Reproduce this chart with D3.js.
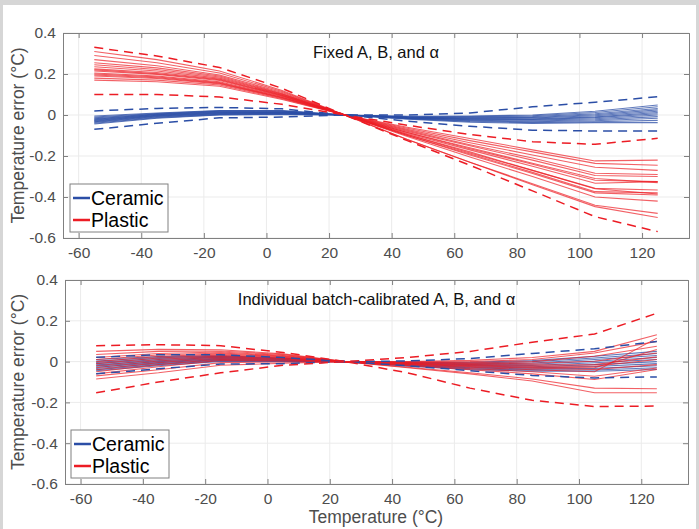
<!DOCTYPE html>
<html>
<head>
<meta charset="utf-8">
<script src="https://cdn.jsdelivr.net/npm/d3@7/dist/d3.min.js"></script>
<style>
  body { margin: 0; background: #fff; }
  svg { display: block; font-family: "Liberation Sans", Arial, sans-serif; }
</style>
</head>
<body>
<svg id="chart" width="699" height="529"></svg>
<script>
// measurement temperatures (°C)
const temps = [-55, -35, -15, 5, 25, 45, 65, 85, 105, 125];
const xTicks = [-60, -40, -20, 0, 20, 40, 60, 80, 100, 120];
const yTicks = [0.4, 0.2, 0, -0.2, -0.4, -0.6];

// --- Fixed A, B, and alpha ---
const fixedCeramic = [
  [-0.005, 0.010, 0.022, 0.022, 0, -0.006, -0.005, 0.000, 0.018, 0.049],
  [-0.010, 0.007, 0.020, 0.020, 0, -0.008, -0.008, -0.004, 0.012, 0.040],
  [-0.014, 0.005, 0.018, 0.018, 0, -0.010, -0.011, -0.008, 0.006, 0.032],
  [-0.018, 0.003, 0.016, 0.016, 0, -0.011, -0.014, -0.012, 0.001, 0.025],
  [-0.021, 0.001, 0.014, 0.014, 0, -0.012, -0.016, -0.015, -0.004, 0.018],
  [-0.024, -0.001, 0.012, 0.013, 0, -0.013, -0.019, -0.019, -0.009, 0.012],
  [-0.027, -0.003, 0.010, 0.011, 0, -0.014, -0.021, -0.022, -0.013, 0.006],
  [-0.030, -0.005, 0.008, 0.010, 0, -0.015, -0.023, -0.025, -0.018, 0.000],
  [-0.033, -0.007, 0.006, 0.008, 0, -0.016, -0.026, -0.029, -0.023, -0.008],
  [-0.036, -0.010, 0.004, 0.006, 0, -0.017, -0.029, -0.033, -0.028, -0.016],
  [-0.040, -0.013, 0.002, 0.004, 0, -0.018, -0.032, -0.037, -0.033, -0.026],
  [-0.044, -0.016, 0.000, 0.002, 0, -0.020, -0.035, -0.041, -0.037, -0.037]
];
const fixedCeramicBounds = [
  [0.020, 0.032, 0.037, 0.030, 0, 0.000, 0.010, 0.040, 0.062, 0.089],
  [-0.070, -0.040, -0.014, -0.010, 0, -0.030, -0.055, -0.074, -0.078, -0.078]
];
const fixedPlastic = [
  [0.310, 0.270, 0.215, 0.120, 0, -0.120, -0.230, -0.340, -0.447, -0.500],
  [0.290, 0.255, 0.205, 0.115, 0, -0.120, -0.230, -0.335, -0.440, -0.480],
  [0.270, 0.240, 0.195, 0.110, 0, -0.105, -0.205, -0.300, -0.400, -0.420],
  [0.255, 0.230, 0.190, 0.105, 0, -0.100, -0.195, -0.285, -0.380, -0.390],
  [0.245, 0.222, 0.185, 0.102, 0, -0.100, -0.190, -0.280, -0.374, -0.380],
  [0.235, 0.215, 0.180, 0.100, 0, -0.095, -0.185, -0.270, -0.358, -0.366],
  [0.225, 0.207, 0.175, 0.097, 0, -0.090, -0.170, -0.250, -0.333, -0.325],
  [0.220, 0.202, 0.172, 0.095, 0, -0.095, -0.180, -0.270, -0.360, -0.385],
  [0.215, 0.198, 0.168, 0.093, 0, -0.085, -0.165, -0.240, -0.318, -0.325],
  [0.205, 0.190, 0.162, 0.090, 0, -0.080, -0.150, -0.220, -0.295, -0.300],
  [0.200, 0.186, 0.158, 0.087, 0, -0.075, -0.145, -0.210, -0.284, -0.290],
  [0.195, 0.182, 0.155, 0.085, 0, -0.085, -0.160, -0.235, -0.310, -0.330],
  [0.190, 0.178, 0.152, 0.083, 0, -0.070, -0.135, -0.195, -0.255, -0.270],
  [0.180, 0.170, 0.146, 0.080, 0, -0.065, -0.125, -0.180, -0.236, -0.245],
  [0.170, 0.162, 0.140, 0.076, 0, -0.060, -0.115, -0.170, -0.224, -0.220]
];
const fixedPlasticBounds = [
  [0.330, 0.288, 0.232, 0.130, 0, -0.050, -0.095, -0.130, -0.143, -0.114],
  [0.100, 0.100, 0.088, 0.052, 0, -0.125, -0.245, -0.370, -0.496, -0.569]
];

// --- Individual batch-calibrated A, B, and alpha ---
const batchCeramic = [
  [0.010, 0.025, 0.028, 0.018, 0, -0.004, -0.003, 0.005, 0.026, 0.050],
  [0.003, 0.020, 0.025, 0.016, 0, -0.006, -0.007, -0.001, 0.018, 0.040],
  [-0.004, 0.015, 0.022, 0.014, 0, -0.008, -0.011, -0.007, 0.010, 0.030],
  [-0.010, 0.010, 0.019, 0.012, 0, -0.010, -0.015, -0.013, 0.002, 0.020],
  [-0.016, 0.005, 0.016, 0.010, 0, -0.012, -0.019, -0.019, -0.006, 0.010],
  [-0.022, 0.000, 0.013, 0.008, 0, -0.014, -0.023, -0.025, -0.015, 0.000],
  [-0.028, -0.005, 0.010, 0.006, 0, -0.016, -0.027, -0.031, -0.024, -0.010],
  [-0.034, -0.010, 0.007, 0.004, 0, -0.018, -0.031, -0.037, -0.033, -0.020],
  [-0.040, -0.015, 0.004, 0.002, 0, -0.020, -0.035, -0.042, -0.041, -0.030],
  [-0.045, -0.020, 0.001, 0.000, 0, -0.022, -0.039, -0.047, -0.047, -0.039]
];
const batchCeramicBounds = [
  [0.021, 0.034, 0.033, 0.020, 0, 0.003, 0.015, 0.040, 0.063, 0.099],
  [-0.060, -0.035, -0.012, -0.010, 0, -0.020, -0.045, -0.068, -0.080, -0.075]
];
const batchPlastic = [
  [0.050, 0.060, 0.058, 0.038, 0, -0.030, -0.060, -0.095, -0.153, -0.153],
  [0.035, 0.050, 0.052, 0.034, 0, -0.028, -0.055, -0.085, -0.130, -0.133],
  [0.020, 0.040, 0.047, 0.030, 0, -0.020, -0.040, -0.060, -0.088, -0.039],
  [0.010, 0.032, 0.042, 0.027, 0, -0.018, -0.034, -0.050, -0.072, -0.031],
  [0.000, 0.025, 0.038, 0.024, 0, -0.012, -0.024, -0.032, -0.039, -0.015],
  [-0.010, 0.018, 0.033, 0.021, 0, -0.010, -0.018, -0.022, -0.023, 0.010],
  [-0.020, 0.010, 0.028, 0.018, 0, -0.008, -0.014, -0.016, -0.015, 0.023],
  [-0.030, 0.003, 0.023, 0.015, 0, -0.006, -0.010, -0.008, 0.002, 0.042],
  [-0.040, -0.005, 0.018, 0.012, 0, -0.004, -0.006, 0.000, 0.026, 0.075],
  [-0.050, -0.015, 0.012, 0.008, 0, -0.002, 0.000, 0.010, 0.042, 0.099],
  [-0.060, -0.025, 0.006, 0.004, 0, 0.000, 0.006, 0.020, 0.050, 0.132],
  [-0.070, -0.040, -0.005, -0.002, 0, -0.012, -0.020, -0.028, -0.030, 0.059],
  [-0.085, -0.055, -0.018, -0.008, 0, -0.015, -0.028, -0.040, -0.050, 0.115]
];
const batchPlasticBounds = [
  [0.078, 0.083, 0.078, 0.045, 0, 0.020, 0.050, 0.095, 0.135, 0.237],
  [-0.153, -0.100, -0.055, -0.018, 0, -0.055, -0.130, -0.190, -0.220, -0.218]
];

const blue = '#2b4ea6';
const red = '#ec1c24';
const fontFam = '"Liberation Sans", Arial, sans-serif';

const panels = [
  { title: 'Fixed A, B, and α', box: { l: 63, r: 689, t: 33, b: 238 },
    ceramic: fixedCeramic, ceramicB: fixedCeramicBounds,
    plastic: fixedPlastic, plasticB: fixedPlasticBounds, legend: { x: 70, y: 184 } },
  { title: 'Individual batch-calibrated A, B, and α', box: { l: 65, r: 688, t: 280, b: 484 },
    ceramic: batchCeramic, ceramicB: batchCeramicBounds,
    plastic: batchPlastic, plasticB: batchPlasticBounds, legend: { x: 71, y: 430 } }
];

// plain hyphen for negatives, like the original figure
const fmtY = d => d === 0 ? '0' : d3.format('.1f')(d).replace('\u2212', '-');
const fmtX = d => String(d);

const svg = d3.select('#chart');

// grey window frame
svg.append('rect').attr('x', 0).attr('y', 0).attr('width', 699).attr('height', 529).attr('fill', '#d6d6d6');
svg.append('rect').attr('x', 3).attr('y', 5).attr('width', 693).attr('height', 524).attr('fill', '#fff');

panels.forEach(p => {
  const b = p.box;
  const x = d3.scaleLinear().domain([-65, 135]).range([b.l, b.r]);
  const y = d3.scaleLinear().domain([-0.6, 0.4]).range([b.b, b.t]);
  const g = svg.append('g');

  // grid
  g.selectAll('.gx').data(xTicks).join('line')
    .attr('x1', d => x(d)).attr('x2', d => x(d)).attr('y1', b.t).attr('y2', b.b)
    .attr('stroke', '#ebebeb').attr('stroke-width', 1);
  g.selectAll('.gy').data(yTicks).join('line')
    .attr('y1', d => y(d)).attr('y2', d => y(d)).attr('x1', b.l).attr('x2', b.r)
    .attr('stroke', '#ebebeb').attr('stroke-width', 1);

  const line = d3.line().x((d, i) => x(temps[i])).y(d => y(d));
  const plot = g.append('g');

  plot.selectAll('.c').data(p.ceramic).join('path')
    .attr('d', line).attr('fill', 'none').attr('stroke', blue)
    .attr('stroke-width', 1.1).attr('stroke-opacity', 0.75);
  plot.selectAll('.pl').data(p.plastic).join('path')
    .attr('d', line).attr('fill', 'none').attr('stroke', red)
    .attr('stroke-width', 1.1).attr('stroke-opacity', 0.7);
  plot.selectAll('.cb').data(p.ceramicB).join('path')
    .attr('d', line).attr('fill', 'none').attr('stroke', blue)
    .attr('stroke-width', 1.5).attr('stroke-dasharray', '9,6');
  plot.selectAll('.pb').data(p.plasticB).join('path')
    .attr('d', line).attr('fill', 'none').attr('stroke', red)
    .attr('stroke-width', 1.5).attr('stroke-dasharray', '9,6');

  // axes box with inward ticks on all sides
  const axisColor = '#808080';
  const axB = g.append('g').attr('transform', `translate(0,${b.b})`)
    .call(d3.axisBottom(x).tickValues(xTicks).tickSize(-5).tickPadding(9).tickFormat(fmtX));
  const axT = g.append('g').attr('transform', `translate(0,${b.t})`)
    .call(d3.axisTop(x).tickValues(xTicks).tickSize(-5).tickFormat(''));
  const axL = g.append('g').attr('transform', `translate(${b.l},0)`)
    .call(d3.axisLeft(y).tickValues(yTicks).tickSize(-5).tickPadding(7).tickFormat(fmtY));
  const axR = g.append('g').attr('transform', `translate(${b.r},0)`)
    .call(d3.axisRight(y).tickValues(yTicks).tickSize(-5).tickFormat(''));
  [axB, axT, axL, axR].forEach(a => {
    a.select('.domain').attr('stroke', axisColor);
    a.selectAll('.tick line').attr('stroke', axisColor);
    a.selectAll('.tick text').attr('fill', '#4d4d4d').attr('font-size', 15.5)
      .attr('font-family', fontFam);
  });

  // panel title
  g.append('text').attr('x', (b.l + b.r) / 2).attr('y', b.t + 25)
    .attr('text-anchor', 'middle').attr('font-size', 16.5).attr('fill', '#111')
    .text(p.title);

  // y label
  g.append('text')
    .attr('transform', `translate(24,${(b.t + b.b) / 2}) rotate(-90)`)
    .attr('text-anchor', 'middle').attr('font-size', 17.5).attr('fill', '#4d4d4d')
    .text('Temperature error (°C)');

  // legend
  const lg = g.append('g').attr('transform', `translate(${p.legend.x},${p.legend.y})`);
  lg.append('rect').attr('width', 98).attr('height', 48)
    .attr('fill', '#fff').attr('stroke', '#808080').attr('stroke-width', 1);
  [['Ceramic', blue, 14], ['Plastic', red, 36]].forEach(([name, col, ly]) => {
    lg.append('line').attr('x1', 3).attr('x2', 20).attr('y1', ly).attr('y2', ly)
      .attr('stroke', col).attr('stroke-width', 2.5);
    lg.append('text').attr('x', 21).attr('y', ly + 7).attr('font-size', 19.5).attr('fill', '#000').text(name);
  });
});

svg.append('text').attr('x', 376).attr('y', 523)
  .attr('text-anchor', 'middle').attr('font-size', 17.5).attr('fill', '#4d4d4d')
  .text('Temperature (°C)');
</script>
</body>
</html>
